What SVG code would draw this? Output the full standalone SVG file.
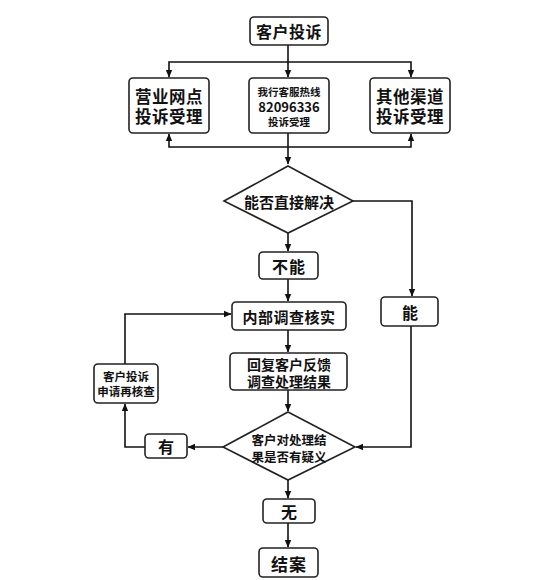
<svg xmlns="http://www.w3.org/2000/svg" width="556" height="580" viewBox="0 0 556 580">
<defs>
<marker id="ah" markerWidth="8" markerHeight="8" refX="7" refY="4" orient="auto" markerUnits="userSpaceOnUse">
<path d="M0,0.8 L7.5,4 L0,7.2 Z" fill="#111"/>
</marker>
</defs>
<style>
.box{fill:#fff;stroke:#222;stroke-width:1.6}
.c{fill:none;stroke:#111;stroke-width:1.6}
text{font-family:"Noto Sans CJK SC","Noto Sans",sans-serif;font-weight:bold;fill:#111;text-anchor:middle;dominant-baseline:central}
</style>
<rect width="556" height="580" fill="#fff"/>
<g id="connectors">
<path class="c" d="M288,45 V77" marker-end="url(#ah)"/>
<path class="c" d="M288,62 H169 V77" marker-end="url(#ah)"/>
<path class="c" d="M288,62 H411 V77" marker-end="url(#ah)"/>
<path class="c" d="M288,147 H169 V134" marker-end="url(#ah)"/>
<path class="c" d="M288,147 H411 V134" marker-end="url(#ah)"/>
<path class="c" d="M288,133 V164" marker-end="url(#ah)"/>
<path class="c" d="M288,233 V251" marker-end="url(#ah)"/>
<path class="c" d="M353,201 H412 V296" marker-end="url(#ah)"/>
<path class="c" d="M288,279 V301" marker-end="url(#ah)"/>
<path class="c" d="M288,330 V352" marker-end="url(#ah)"/>
<path class="c" d="M288,390 V411" marker-end="url(#ah)"/>
<path class="c" d="M411,326 V447 H356" marker-end="url(#ah)"/>
<path class="c" d="M223,447 H188" marker-end="url(#ah)"/>
<path class="c" d="M145,447 H125 V404" marker-end="url(#ah)"/>
<path class="c" d="M125,364 V314 H231" marker-end="url(#ah)"/>
<path class="c" d="M288,480 V498" marker-end="url(#ah)"/>
<path class="c" d="M288,523 V547" marker-end="url(#ah)"/>
</g>
<g id="n-start">
<rect class="box" x="250" y="17" width="78" height="28" rx="4"/>
<text x="289" y="31" font-size="16" letter-spacing="0.5">客户投诉</text>
</g>
<g id="n-branch">
<rect class="box" x="129" y="78" width="80" height="55" rx="4"/>
<text x="169" y="95.5" font-size="16.5" letter-spacing="0.5">营业网点</text>
<text x="169" y="116" font-size="16.5" letter-spacing="0.5">投诉受理</text>
</g>
<g id="n-hotline">
<rect class="box" x="249" y="78" width="80" height="55" rx="4"/>
<text x="289" y="91" font-size="10.5">我行客服热线</text>
<text x="289" y="106" font-size="13">82096336</text>
<text x="289" y="121" font-size="10.5">投诉受理</text>
</g>
<g id="n-other">
<rect class="box" x="370" y="78" width="80" height="55" rx="4"/>
<text x="410" y="95.5" font-size="16.5" letter-spacing="0.5">其他渠道</text>
<text x="410" y="116" font-size="16.5" letter-spacing="0.5">投诉受理</text>
</g>
<g id="n-decide1">
<polygon class="box" points="288,166 353,201 288,233 224,201"/>
<text x="289" y="201" font-size="15">能否直接解决</text>
</g>
<g id="n-no">
<rect class="box" x="259" y="252" width="59" height="27" rx="4"/>
<text x="289" y="266" font-size="16" letter-spacing="1">不能</text>
</g>
<g id="n-yes">
<rect class="box" x="381" y="297" width="57" height="29" rx="4"/>
<text x="410" y="312" font-size="16">能</text>
</g>
<g id="n-investigate">
<rect class="box" x="232" y="302" width="114" height="28" rx="4"/>
<text x="289" y="316" font-size="15" letter-spacing="0.5">内部调查核实</text>
</g>
<g id="n-reply">
<rect class="box" x="230" y="353" width="117" height="37" rx="4"/>
<text x="289" y="363.5" font-size="14">回复客户反馈</text>
<text x="289" y="380.5" font-size="14">调查处理结果</text>
</g>
<g id="n-recheck">
<rect class="box" x="94" y="364" width="64" height="39" rx="4"/>
<text x="126" y="376" font-size="11.5">客户投诉</text>
<text x="126" y="391" font-size="11.5">申请再核查</text>
</g>
<g id="n-decide2">
<polygon class="box" points="288,412 355,447 288,480 223,447"/>
<text x="289" y="439" font-size="12.5">客户对处理结</text>
<text x="289" y="456" font-size="12.5">果是否有疑义</text>
</g>
<g id="n-have">
<rect class="box" x="145" y="434" width="42" height="24" rx="4"/>
<text x="166" y="446" font-size="16">有</text>
</g>
<g id="n-none">
<rect class="box" x="263" y="499" width="52" height="24" rx="4"/>
<text x="289" y="511" font-size="16">无</text>
</g>
<g id="n-close">
<rect class="box" x="259" y="548" width="59" height="29" rx="4"/>
<text x="289" y="563" font-size="17" letter-spacing="1">结案</text>
</g>
</svg>
